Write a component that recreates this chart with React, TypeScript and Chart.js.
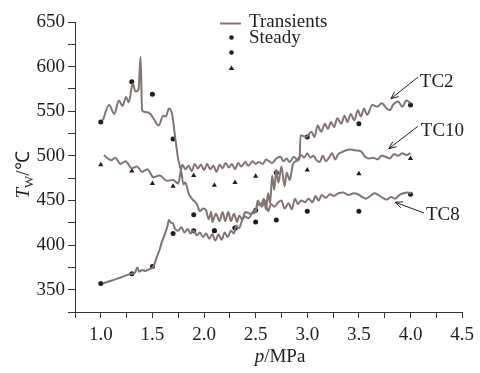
import React, { useEffect, useRef } from "react";
import { Chart, registerables } from "chart.js";

Chart.register(...registerables);

const FONT = '"Liberation Serif", "Times New Roman", serif';
const LINE_COLOR = "#827472";
const INK = "#1e1e1e";

// Transient wall temperature traces: pressure (MPa) and temperature (°C)
const tc2TransP = [1.02, 1.08, 1.13, 1.175, 1.21, 1.245, 1.27, 1.31, 1.335, 1.365, 1.385, 1.4, 1.43, 1.48, 1.51, 1.56, 1.605, 1.63, 1.66, 1.69, 1.72, 1.75, 1.78, 1.8, 1.82, 1.85, 1.89, 1.93, 1.96, 1.99, 2.02, 2.045, 2.07, 2.08, 2.115, 2.15, 2.18, 2.205, 2.235, 2.26, 2.29, 2.32, 2.34, 2.37, 2.4, 2.45, 2.5, 2.52, 2.55, 2.58, 2.6, 2.62, 2.64, 2.66, 2.68, 2.7, 2.72, 2.75, 2.78, 2.8, 2.83, 2.86, 2.89, 2.925, 2.935, 2.99, 3.04, 3.07, 3.1, 3.135, 3.17, 3.2, 3.23, 3.26, 3.29, 3.33, 3.36, 3.39, 3.42, 3.455, 3.49, 3.52, 3.55, 3.58, 3.63, 3.68, 3.72, 3.77, 3.8, 3.83, 3.88, 3.92, 3.96, 4.0];
const tc2TransT = [540, 557, 547, 562, 556, 566, 560, 581, 572, 574, 611, 551, 549, 547, 542, 534, 545, 544, 553, 547, 521, 496, 482, 468, 470, 458, 451, 446, 438, 441, 439, 429, 437, 426, 435, 427, 437, 427, 437, 427, 435, 426, 433, 429, 437, 435, 437, 450, 445, 452, 440, 458, 447, 478, 462, 484, 470, 488, 466, 481, 473, 490, 494, 497, 523, 521, 527, 521, 534, 527, 536, 530, 538, 532, 542, 536, 545, 538, 547, 540, 551, 544, 553, 546, 557, 555, 559, 553, 551, 557, 561, 555, 562, 559];

const tc10TransP = [1.03, 1.07, 1.1, 1.14, 1.19, 1.24, 1.3, 1.35, 1.4, 1.45, 1.51, 1.57, 1.64, 1.7, 1.75, 1.77, 1.79, 1.82, 1.85, 1.88, 1.91, 1.94, 1.97, 2.0, 2.03, 2.06, 2.09, 2.12, 2.15, 2.18, 2.21, 2.24, 2.27, 2.3, 2.33, 2.36, 2.4, 2.43, 2.47, 2.5, 2.53, 2.57, 2.6, 2.63, 2.66, 2.7, 2.74, 2.77, 2.8, 2.83, 2.87, 2.9, 2.94, 2.97, 3.0, 3.03, 3.06, 3.09, 3.12, 3.15, 3.18, 3.21, 3.24, 3.27, 3.3, 3.33, 3.37, 3.42, 3.47, 3.52, 3.56, 3.6, 3.64, 3.68, 3.72, 3.76, 3.8, 3.84, 3.88, 3.92, 3.96, 4.0];
const tc10TransT = [501, 497, 495, 498, 491, 494, 486, 488, 482, 485, 476, 478, 472, 473, 469, 480, 490, 485, 489, 483, 491, 486, 490, 484, 491, 485, 489, 482, 490, 486, 492, 487, 491, 485, 492, 488, 493, 489, 494, 491, 493, 491, 496, 494, 492, 497, 499, 494, 497, 493, 499, 496, 501, 498, 503, 498, 500, 495, 493, 500, 494, 498, 503, 496, 502, 504, 506, 507, 506, 505, 499, 497, 498, 496, 500, 499, 497, 502, 500, 503, 501, 503];

const tc8TransP = [1.02, 1.1, 1.2, 1.3, 1.33, 1.355, 1.37, 1.4, 1.43, 1.47, 1.51, 1.54, 1.57, 1.59, 1.62, 1.645, 1.66, 1.68, 1.7, 1.72, 1.75, 1.78, 1.81, 1.84, 1.87, 1.9, 1.93, 1.96, 1.99, 2.02, 2.05, 2.08, 2.11, 2.14, 2.17, 2.2, 2.23, 2.26, 2.29, 2.31, 2.34, 2.37, 2.4, 2.43, 2.47, 2.5, 2.53, 2.56, 2.59, 2.62, 2.65, 2.68, 2.72, 2.75, 2.78, 2.82, 2.85, 2.88, 2.91, 2.94, 2.98, 3.01, 3.05, 3.08, 3.11, 3.14, 3.18, 3.22, 3.26, 3.3, 3.35, 3.4, 3.45, 3.49, 3.53, 3.57, 3.61, 3.65, 3.69, 3.73, 3.77, 3.81, 3.85, 3.89, 3.93, 3.97, 4.01];
const tc8TransT = [357, 360, 364, 368, 369, 375, 370, 372, 371, 373, 376, 386, 395, 403, 412, 421, 428, 425, 424, 418, 416, 420, 414, 418, 413, 416, 411, 414, 409, 413, 407, 412, 405, 412, 406, 414, 409, 416, 413, 422, 419, 428, 432, 430, 437, 440, 446, 443, 450, 438, 446, 443, 448, 450, 441, 447, 440, 452, 446, 450, 448, 452, 448, 455, 450, 456, 453, 457, 455, 458, 459, 456, 458, 457, 454, 452, 455, 458, 456, 453, 451, 454, 452, 456, 458, 459, 458];

// Steady-state measurements
const steadyP = [1.0, 1.3, 1.5, 1.7, 1.9, 2.1, 2.3, 2.5, 2.7, 3.0, 3.5, 4.0];
const tc2Steady = [538, 583, 569, 519, 434, 416, 419, 439, 481, 521, 536, 557];
const tc10Steady = [490, 483, 469, 466, 478, 467, 470, 477, 482, 484, 480, 497];
const tc8Steady = [357, 368, 376, 413, 416, 416, 419, 426, 428, 438, 438, 457];

// Curve labels with their leader arrows: [text, labelP, labelT, tailP, tailT, headP, headT]
const curveLabels: [string, number, number, number, number, number, number][] = [
  ["TC2", 4.09, 583, 4.07, 588, 3.81, 564],
  ["TC10", 4.1, 528, 4.07, 533, 3.79, 508],
  ["TC8", 4.15, 434, 4.13, 436, 3.85, 448],
];

const xTicksMajor = [1.0, 1.5, 2.0, 2.5, 3.0, 3.5, 4.0, 4.5];
const yTicksMajor = [350, 400, 450, 500, 550, 600, 650];

const pairs = (xs: number[], ys: number[]) => xs.map((x, i) => ({ x, y: ys[i] }));

const isMajor = (list: number[], v: number) => list.some((m) => Math.abs(m - v) < 1e-6);

const overlay = {
  id: "overlay",
  afterDraw(chart: any) {
    const { ctx, scales } = chart;
    const xs = scales.x;
    const ys = scales.y;
    ctx.save();
    ctx.fillStyle = INK;
    ctx.strokeStyle = INK;

    // curve labels and arrows
    ctx.font = `19px ${FONT}`;
    ctx.textBaseline = "middle";
    ctx.textAlign = "left";
    ctx.lineWidth = 1;
    for (const [txt, lp, lt, tp, tt, hp, ht] of curveLabels) {
      ctx.fillText(txt, xs.getPixelForValue(lp), ys.getPixelForValue(lt));
      const x0 = xs.getPixelForValue(tp);
      const y0 = ys.getPixelForValue(tt);
      const x1 = xs.getPixelForValue(hp);
      const y1 = ys.getPixelForValue(ht);
      ctx.beginPath();
      ctx.moveTo(x0, y0);
      ctx.lineTo(x1, y1);
      const a = Math.atan2(y1 - y0, x1 - x0);
      const L = 8;
      ctx.moveTo(x1 - L * Math.cos(a - 0.4), y1 - L * Math.sin(a - 0.4));
      ctx.lineTo(x1, y1);
      ctx.lineTo(x1 - L * Math.cos(a + 0.4), y1 - L * Math.sin(a + 0.4));
      ctx.stroke();
    }

    // legend
    ctx.strokeStyle = LINE_COLOR;
    ctx.lineWidth = 2;
    ctx.beginPath();
    ctx.moveTo(220, 23.5);
    ctx.lineTo(241, 23.5);
    ctx.stroke();
    ctx.fillStyle = INK;
    ctx.textBaseline = "alphabetic";
    ctx.fillText("Transients", 249, 27);
    ctx.fillText("Steady", 249, 43);
    ctx.beginPath();
    ctx.arc(231.5, 37.5, 2.3, 0, Math.PI * 2);
    ctx.arc(231.5, 52.5, 2.3, 0, Math.PI * 2);
    ctx.fill();
    ctx.beginPath();
    ctx.moveTo(231.5, 65.5);
    ctx.lineTo(234.3, 70);
    ctx.lineTo(228.7, 70);
    ctx.closePath();
    ctx.fill();

    // x axis title: p/MPa
    ctx.textBaseline = "alphabetic";
    ctx.font = `italic 19px ${FONT}`;
    const pW = ctx.measureText("p").width;
    ctx.font = `19px ${FONT}`;
    const restW = ctx.measureText("/MPa").width;
    const tx = 280 - (pW + restW) / 2;
    ctx.font = `italic 19px ${FONT}`;
    ctx.fillText("p", tx, 362);
    ctx.font = `19px ${FONT}`;
    ctx.fillText("/MPa", tx + pW, 362);

    // y axis title: T_W/℃ (rotated)
    ctx.translate(29, 175);
    ctx.rotate(-Math.PI / 2);
    ctx.font = `italic 19px ${FONT}`;
    const tW = ctx.measureText("T").width;
    ctx.font = `13px ${FONT}`;
    const wW = ctx.measureText("W").width;
    ctx.font = `19px ${FONT}`;
    const cW = ctx.measureText("/℃").width;
    let ox = -(tW + wW + cW) / 2;
    ctx.font = `italic 19px ${FONT}`;
    ctx.fillText("T", ox, 0);
    ox += tW;
    ctx.font = `13px ${FONT}`;
    ctx.fillText("W", ox, 4);
    ox += wW;
    ctx.font = `19px ${FONT}`;
    ctx.fillText("/℃", ox, 0);
    ctx.restore();
  },
};

export default function App() {
  const canvasRef = useRef<HTMLCanvasElement | null>(null);

  useEffect(() => {
    const canvas = canvasRef.current;
    if (!canvas) return;

    const lineDs = (label: string, xs: number[], ys: number[]) => ({
      label,
      data: pairs(xs, ys),
      showLine: true,
      borderColor: LINE_COLOR,
      borderWidth: 2,
      pointRadius: 0,
      cubicInterpolationMode: "monotone",
      fill: false,
    });
    const pointDs = (label: string, ys: number[], style: string, r: number) => ({
      label,
      data: pairs(steadyP, ys),
      showLine: false,
      pointStyle: style,
      pointRadius: r,
      backgroundColor: INK,
      borderColor: INK,
      borderWidth: 0,
    });

    const chart = new Chart(canvas, {
      type: "scatter",
      data: {
        datasets: [
          lineDs("TC2 transient", tc2TransP, tc2TransT),
          lineDs("TC10 transient", tc10TransP, tc10TransT),
          lineDs("TC8 transient", tc8TransP, tc8TransT),
          pointDs("TC2 steady", tc2Steady, "circle", 2.5),
          pointDs("TC10 steady", tc10Steady, "triangle", 3),
          pointDs("TC8 steady", tc8Steady, "circle", 2.5),
        ] as any,
      },
      options: {
        responsive: false,
        animation: false,
        layout: { padding: { top: 22, right: 13, left: 0, bottom: 0 } },
        plugins: { legend: { display: false }, tooltip: { enabled: false } },
        scales: {
          x: {
            type: "linear",
            min: 0.75,
            max: 4.5,
            afterFit: (s: any) => {
              s.height = 61;
            },
            border: { display: true, color: "#333", width: 1 },
            grid: { display: true, drawOnChartArea: false, drawTicks: true, tickLength: 6, color: "#333" },
            ticks: {
              stepSize: 0.25,
              autoSkip: false,
              maxRotation: 0,
              padding: 6,
              color: INK,
              font: { family: FONT, size: 19 },
              callback: (v: any) => (isMajor(xTicksMajor, Number(v)) ? Number(v).toFixed(1) : ""),
            },
          },
          y: {
            type: "linear",
            min: 325,
            max: 650,
            afterFit: (s: any) => {
              s.width = 75;
            },
            border: { display: true, color: "#333", width: 1 },
            grid: { display: true, drawOnChartArea: false, drawTicks: true, tickLength: 7, color: "#333" },
            ticks: {
              stepSize: 25,
              autoSkip: false,
              padding: 3,
              color: INK,
              font: { family: FONT, size: 19 },
              callback: (v: any) => (isMajor(yTicksMajor, Number(v)) ? String(v) : ""),
            },
          },
        },
      },
      plugins: [overlay],
    });

    return () => chart.destroy();
  }, []);

  return (
    <div style={{ position: "fixed", left: 0, top: 0, width: 480, height: 373, background: "#fff" }}>
      <canvas ref={canvasRef} width={480} height={373} style={{ display: "block" }} />
    </div>
  );
}
